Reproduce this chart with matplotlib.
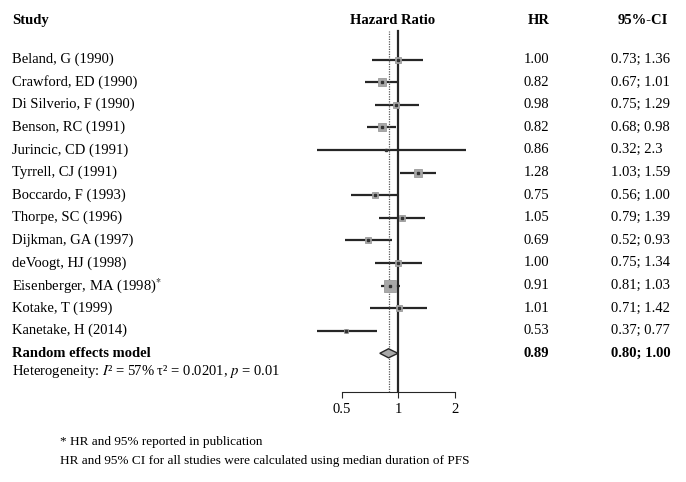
import matplotlib
matplotlib.use('Agg')
import numpy as np
import matplotlib.pyplot as plt
import matplotlib.transforms as mtransforms

plt.rcParams['font.family'] = ['Liberation Serif', 'DejaVu Serif']
plt.rcParams['mathtext.fontset'] = 'stix'

# study data
studies = ['Beland, G (1990)', 'Crawford, ED (1990)', 'Di Silverio, F (1990)',
           'Benson, RC (1991)', 'Jurincic, CD (1991)', 'Tyrrell, CJ (1991)',
           'Boccardo, F (1993)', 'Thorpe, SC (1996)', 'Dijkman, GA (1997)',
           'deVoogt, HJ (1998)', 'Eisenberger, MA (1998)$^{*}$', 'Kotake, T (1999)',
           'Kanetake, H (2014)']
hr = [1.00, 0.82, 0.98, 0.82, 0.86, 1.28, 0.75, 1.05, 0.69, 1.00, 0.91, 1.01, 0.53]
lo = [0.73, 0.67, 0.75, 0.68, 0.32, 1.03, 0.56, 0.79, 0.52, 0.75, 0.81, 0.71, 0.37]
hi = [1.36, 1.01, 1.29, 0.98, 2.3, 1.59, 1.00, 1.39, 0.93, 1.34, 1.03, 1.42, 0.77]
hr_txt = ['1.00', '0.82', '0.98', '0.82', '0.86', '1.28', '0.75', '1.05', '0.69',
          '1.00', '0.91', '1.01', '0.53']
ci_txt = ['0.73; 1.36', '0.67; 1.01', '0.75; 1.29', '0.68; 0.98', '0.32; 2.3',
          '1.03; 1.59', '0.56; 1.00', '0.79; 1.39', '0.52; 0.93', '0.75; 1.34',
          '0.81; 1.03', '0.71; 1.42', '0.37; 0.77']
weights = [3.5, 8, 5, 8.5, 1, 6.5, 4.5, 3.5, 3.5, 3, 14, 3, 2.5]  # estimated
pooled = 0.89
pooled_lo, pooled_hi = 0.80, 1.00
xticks = [0.5, 1, 2]

W, H = 686, 482
fig = plt.figure(figsize=(W / 100, H / 100), dpi=100)

# forest axes in pixel layout (0.5 -> 341px, 1 -> 398px, 2 -> 454px)
x_min, x_max = 0.37, 2.5
px_per_log2 = 56.5
px_left = 398 + np.log2(x_min) * px_per_log2
px_right = 398 + np.log2(x_max) * px_per_log2
px_top, px_bot = 10, 392
ax = fig.add_axes([px_left / W, 1 - px_bot / H, (px_right - px_left) / W, (px_bot - px_top) / H])
ax.set_xscale('log')
ax.set_xlim(x_min, x_max)
row_top = (px_top - 59.5) / 22.6
row_bot = (px_bot - 59.5) / 22.6
ax.set_ylim(row_bot, row_top)

col = '#262626'
n = len(studies)
rows = np.arange(n)
for i in range(n):
    ax.plot([lo[i], hi[i]], [rows[i], rows[i]], color=col, lw=1.6, solid_capstyle='butt')
    ax.plot(hr[i], rows[i], marker='s', ms=2.15 * np.sqrt(weights[i]),
            mfc='#a8a8a8', mec='#9a9a9a', mew=0.6, zorder=3)
    ax.plot(hr[i], rows[i], marker='s', ms=2, color='#333333', zorder=4)

# reference lines
ax.plot([1, 1], [row_bot, -1.28], color=col, lw=1.6)
ax.plot([pooled, pooled], [row_bot, -1.28], color='#555555', lw=0.9, ls=(0, (1, 1)))

# pooled diamond
yr = n
ax.fill([pooled_lo, pooled, pooled_hi, pooled], [yr, yr - 0.2, yr, yr + 0.2],
        facecolor='#a8a8a8', edgecolor=col, lw=1.0, zorder=5)

for s in ['top', 'right', 'left']:
    ax.spines[s].set_visible(False)
ax.spines['bottom'].set_bounds(0.5, 2)
ax.spines['bottom'].set_color(col)
ax.set_xticks(xticks)
ax.set_xticklabels(['0.5', '1', '2'])
ax.minorticks_off()
ax.tick_params(axis='x', direction='out', length=4, color=col, labelsize=10.5, pad=4)
ax.set_yticks([])

fs = 10.5

def fx(px):
    return px / W

blend = mtransforms.blended_transform_factory(fig.transFigure, ax.transData)

# headers
hy = -1.72
ax.text(fx(12), hy, 'Study', transform=blend, fontsize=fs, fontweight='bold', va='center')
ax.text(fx(393), hy, 'Hazard Ratio', transform=blend, fontsize=fs, fontweight='bold',
        va='center', ha='center')
ax.text(fx(550), hy, 'HR', transform=blend, fontsize=fs, fontweight='bold', va='center', ha='right')
ax.text(fx(668), hy, '95%-CI', transform=blend, fontsize=fs, fontweight='bold', va='center', ha='right')

for i in range(n):
    ax.text(fx(12), rows[i], studies[i], transform=blend, fontsize=fs, va='center')
    ax.text(fx(549), rows[i], hr_txt[i], transform=blend, fontsize=fs, va='center', ha='right')
    ax.text(fx(611), rows[i], ci_txt[i], transform=blend, fontsize=fs, va='center', ha='left')

ax.text(fx(12), yr, 'Random effects model', transform=blend, fontsize=fs, fontweight='bold', va='center')
ax.text(fx(549), yr, '0.89', transform=blend, fontsize=fs, fontweight='bold', va='center', ha='right')
ax.text(fx(611), yr, '0.80; 1.00', transform=blend, fontsize=fs, fontweight='bold', va='center', ha='left')
ax.text(fx(12), yr + 0.8, 'Heterogeneity: $I$² = 57% τ² = 0.0201, $p$ = 0.01',
        transform=blend, fontsize=fs, va='center')

fig.text(fx(60), 1 - 442 / H, '* HR and 95% reported in publication', fontsize=9.5, va='center')
fig.text(fx(60), 1 - 461 / H, 'HR and 95% CI for all studies were calculated using median duration of PFS',
         fontsize=9.5, va='center')

fig.savefig('out.png', dpi=100)
